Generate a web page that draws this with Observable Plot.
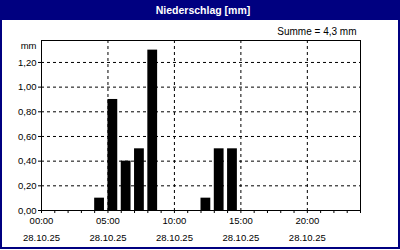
<!DOCTYPE html>
<html><head><meta charset="utf-8">
<script src="https://cdn.jsdelivr.net/npm/d3@7"></script>
<script src="https://cdn.jsdelivr.net/npm/@observablehq/plot@0.6"></script>
<style>
body{margin:0;background:#fff;}
#wrap{position:relative;width:400px;height:250px;overflow:hidden;background:#fff;font-family:"Liberation Sans",Arial,sans-serif;}
#title{position:absolute;left:0;top:0;width:400px;height:20px;background:#000080;color:#fff;font-weight:bold;font-size:10.5px;line-height:20px;text-align:center;box-sizing:border-box;padding-left:6px;}
.bd{position:absolute;background:#000080;}
#chart{position:absolute;left:0;top:20px;}
</style></head>
<body>
<div id="wrap">
  <div id="title">Niederschlag [mm]</div>
  <div class="bd" style="left:0;top:20px;width:2px;height:229px"></div>
  <div class="bd" style="left:398px;top:20px;width:2px;height:229px"></div>
  <div class="bd" style="left:0;top:247px;width:400px;height:2px"></div>
  <div id="chart"></div>
</div>
<script>
const hours = [4, 5, 6, 7, 8, 12, 13, 14];
const values = [0.1, 0.9, 0.4, 0.5, 1.3, 0.1, 0.5, 0.5];
const majorTicks = [0, 5, 10, 15, 20];
const yTicks = [0, 0.2, 0.4, 0.6, 0.8, 1.0, 1.2];
const dateLabel = "28.10.25";
const totalLabel = "Summe = 4,3 mm";
const unitLabel = "mm";

const data = hours.map((h, i) => ({h, v: values[i]}));
const font = "'Liberation Sans', Arial, sans-serif";
const chart = Plot.plot({
  width: 400, height: 230,
  marginLeft: 41, marginRight: 40, marginTop: 20, marginBottom: 40,
  style: {fontFamily: font, fontSize: "9.5px", color: "#000", background: "transparent", overflow: "visible"},
  x: {domain: [0, 24], label: null},
  y: {domain: [0, 1.378], label: null},
  marks: [
    Plot.gridX(majorTicks.slice(1), {stroke: "#000", strokeOpacity: 1, strokeDasharray: "3,3"}),
    Plot.gridY(yTicks.slice(1), {stroke: "#000", strokeOpacity: 1, strokeDasharray: "3,3"}),
    Plot.rectY(data, {x1: "h", x2: d => d.h + 1, y: "v", fill: "#000", insetRight: 3.5}),
    Plot.frame({stroke: "#000"}),
    Plot.axisX(d3.range(0, 25), {tickSize: 3, tickFormat: () => "", stroke: "#000"}),
    Plot.axisX(majorTicks, {tickSize: 0, tickPadding: 7, tickFormat: h => String(h).padStart(2, "0") + ":00"}),
    Plot.axisX(majorTicks, {tickSize: 0, tickPadding: 24, tickFormat: () => dateLabel}),
    Plot.axisY(yTicks, {tickSize: 3, tickPadding: 2, tickFormat: v => v.toFixed(2).replace(".", ",")}),
    Plot.text([unitLabel], {frameAnchor: "top-left", textAnchor: "end", lineAnchor: "middle", dx: -5, dy: 5, fill: "#000"}),
    Plot.text([totalLabel], {frameAnchor: "top-right", textAnchor: "end", lineAnchor: "middle", dx: -4, dy: -9, fontSize: 10, fill: "#000"})
  ]
});
document.getElementById("chart").append(chart);
</script>
</body></html>
